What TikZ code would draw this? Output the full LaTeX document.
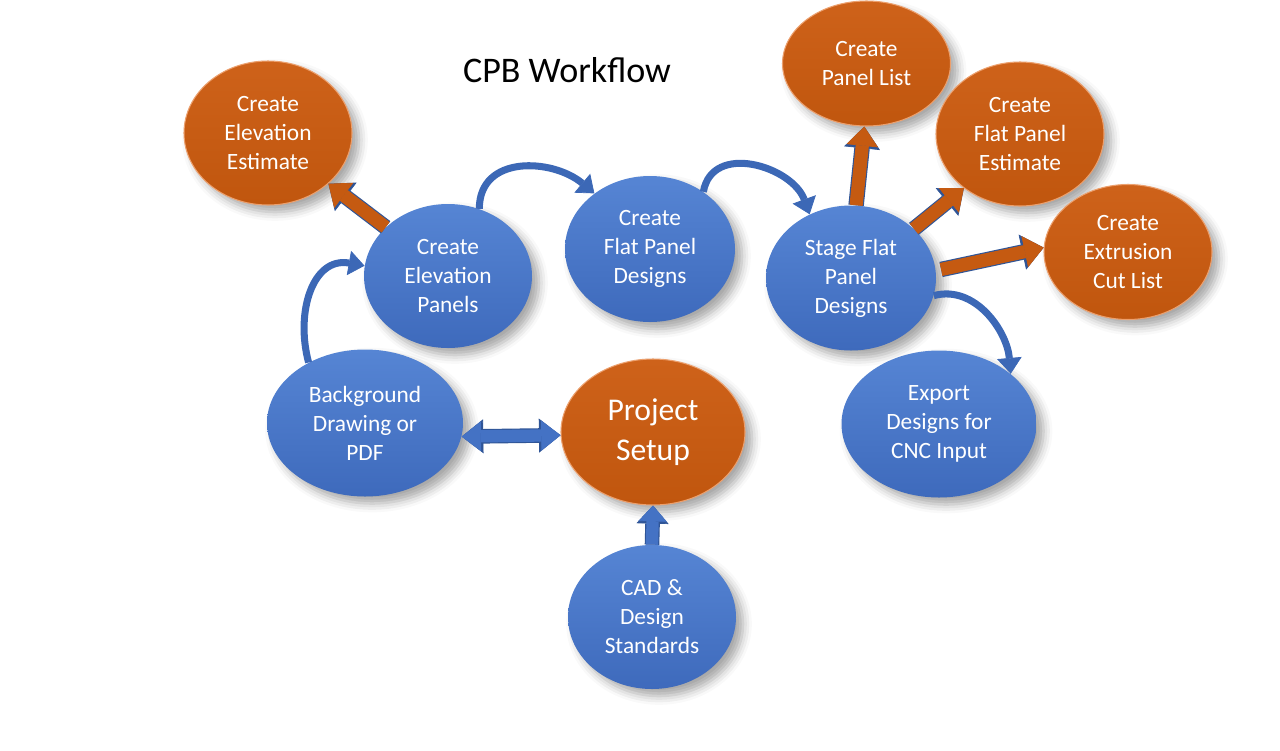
\documentclass[tikz,border=0pt]{standalone}
\usepackage{fontspec}
\setmainfont{Carlito}
\usetikzlibrary{shapes.geometric,arrows.meta,shadows.blur}
\definecolor{btop}{RGB}{86,133,212}
\definecolor{bbot}{RGB}{62,106,188}
\definecolor{bfill}{RGB}{68,114,196}
\definecolor{otop}{RGB}{206,98,26}
\definecolor{obot}{RGB}{192,86,14}
\definecolor{orim}{RGB}{236,160,110}
\definecolor{ofill}{RGB}{197,90,17}
\definecolor{aline}{RGB}{47,85,151}
\definecolor{cblue}{RGB}{60,104,182}
\tikzset{
  ball/.style={ellipse,minimum width=3.36cm,minimum height=2.88cm,inner sep=0pt,
    text=white,align=center,font=\fontsize{13.3}{16.5}\selectfont,
    blur shadow={shadow xshift=4pt,shadow yshift=-4pt,shadow blur radius=5pt,shadow opacity=35}},
  bball/.style={ball,top color=btop,bottom color=bbot},
  oball/.style={ball,top color=otop,bottom color=obot,draw=orim,line width=0.6pt},
  oarrow/.style={draw=ofill,line width=7.5pt,-{Triangle[length=11pt,width=18pt,line width=0.4pt]},
    preaction={draw=aline,line width=8.8pt,-{Triangle[length=12.4pt,width=20.4pt,line width=0.4pt]}}},
  barrow/.style={draw=bfill,line width=7pt,-{Triangle[length=9pt,width=16pt,line width=0.4pt]},
    preaction={draw=aline,line width=8.3pt,-{Triangle[length=10.3pt,width=18.3pt,line width=0.4pt]}}},
  dbarrow/.style={draw=bfill,line width=7pt,
    {Triangle[length=11pt,width=17pt,line width=0.4pt]}-{Triangle[length=11pt,width=17pt,line width=0.4pt]},
    preaction={draw=aline,line width=8.3pt,
    {Triangle[length=12.3pt,width=19.3pt,line width=0.4pt]}-{Triangle[length=12.3pt,width=19.3pt,line width=0.4pt]}}},
  cvarrow/.style={draw=cblue,line width=4pt,-{Triangle[length=9pt,width=14pt,line width=0.4pt]}}
}
\newcommand{\bnode}[5][]{\node[bball,#1] (#4) at (#2,#3) {#5};}
\newcommand{\onode}[5][]{\node[oball,#1] (#4) at (#2,#3) {#5};}

\begin{document}
\begin{tikzpicture}
  \useasboundingbox (0,0) rectangle (25.6,-15);
  \node (title) at (11.34,-1.4) {\fontsize{20.5}{24}\selectfont CPB Workflow};
  \onode{5.36}{-2.66}{est}{Create\\Elevation\\Estimate}
  \bnode{8.96}{-5.52}{elev}{Create\\Elevation\\Panels}
  \bnode[minimum width=3.4cm,minimum height=2.92cm]{13.0}{-4.98}{flat}{Create\\Flat Panel\\Designs}
  \bnode[minimum width=3.4cm,minimum height=2.9cm]{17.02}{-5.56}{stage}{Stage Flat\\Panel\\Designs}
  \onode[minimum height=2.5cm]{17.33}{-1.27}{list}{Create\\Panel List}
  \onode{20.4}{-2.68}{fpest}{Create\\Flat Panel\\Estimate}
  \onode[minimum height=2.7cm]{22.56}{-5.04}{extr}{Create\\Extrusion\\Cut List}
  \bnode[minimum width=3.92cm,minimum height=2.94cm]{7.3}{-8.46}{bg}{Background\\Drawing or\\PDF}
  \onode[minimum width=3.68cm,minimum height=2.92cm,font=\fontsize{18}{22.7}\selectfont]{13.06}{-8.64}{setup}{Project\\Setup}
  \bnode[minimum width=3.9cm,minimum height=2.94cm]{18.78}{-8.48}{export}{Export\\Designs for\\CNC Input}
  \bnode{13.04}{-12.34}{cad}{CAD \&\\Design\\Standards}
  \draw[oarrow] (elev.142) -- (est.-40);
  \draw[oarrow] (stage.86) -- (list.-92);
  \draw[oarrow] (stage.38) -- (fpest.224);
  \draw[oarrow,shorten <=3pt] (stage.5) -- (extr.177);
  \draw[dbarrow] (bg.-8) -- (setup.182);
  \draw[barrow] (cad.north) -- (setup.south);
  \draw[cvarrow] (bg.133) to[out=105,in=170,looseness=1.2] (elev.173);
  \draw[cvarrow] (elev.65) to[out=90,in=140,looseness=1.2] (flat.135);
  \draw[cvarrow] (flat.47) to[out=80,in=110,looseness=1.2] (stage.123);
  \draw[cvarrow] (stage.-12) to[out=15,in=95] (export.35);
\end{tikzpicture}
\end{document}
